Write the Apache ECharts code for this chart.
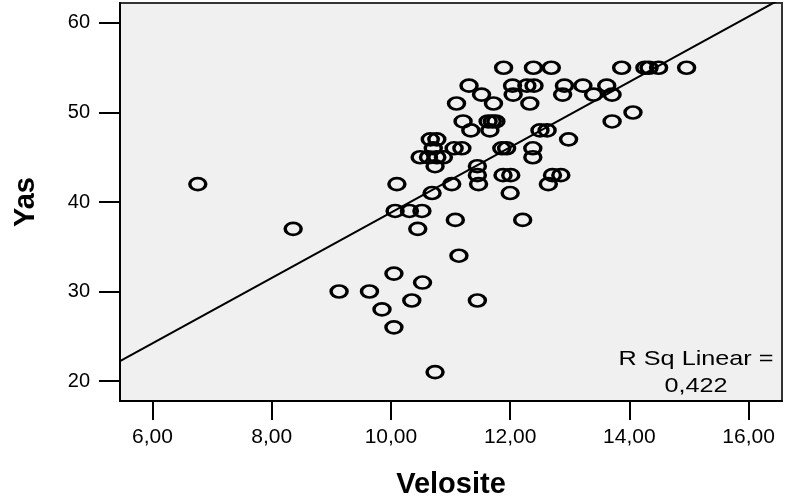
<!DOCTYPE html>
<html>
<head>
<meta charset="utf-8">
<script src="https://cdn.jsdelivr.net/npm/echarts@6/dist/echarts.min.js"></script>
<style>
  html, body { margin: 0; padding: 0; background: #fff; }
  #chart { width: 785px; height: 501px; }
</style>
</head>
<body>
<div id="chart"></div>
<script>
// scatter data (Velosite vs Yas)
var velosite = [
  11.89, 12.39, 12.69, 13.87, 14.26, 14.33, 14.49, 14.96,
  11.31, 12.04, 12.28, 12.40, 12.91, 13.22, 13.62,
  11.52, 12.05, 12.88, 13.40, 13.71,
  11.10, 11.72, 12.33,
  14.06,
  11.21, 11.63, 11.70, 11.76, 13.71,
  11.34, 11.66, 12.50, 12.62,
  10.66, 10.77, 12.98,
  10.71, 11.06, 11.19, 11.86, 11.94, 12.38,
  10.49, 10.63, 10.77, 10.88, 12.38,
  10.74, 11.45,
  11.45, 11.88, 12.01, 12.71, 12.85,
  6.76, 10.10, 11.02, 11.47, 12.64,
  10.69, 12.00,
  10.07, 10.31, 10.52,
  11.08, 12.21,
  8.36, 10.45,
  11.14, 10.05, 10.53, 9.13, 9.64, 10.35, 11.45, 9.85, 10.05, 10.74
];
var yas = [
  55, 55, 55, 55, 55, 55, 55, 55,
  53, 53, 53, 53, 53, 53, 53,
  52, 52, 52, 52, 52,
  51, 51, 51,
  50,
  49, 49, 49, 49, 49,
  48, 48, 48, 48,
  47, 47, 47,
  46, 46, 46, 46, 46, 46,
  45, 45, 45, 45, 45,
  44, 44,
  43, 43, 43, 43, 43,
  42, 42, 42, 42, 42,
  41, 41,
  39, 39, 39,
  38, 38,
  37, 37,
  34, 32, 31, 30, 30, 29, 29, 28, 26, 21
];

var xTicks = [6, 8, 10, 12, 14, 16];
var yTicks = [20, 30, 40, 50, 60];

// fit line as printed by the chart: Yas = a + b * Velosite
var fitIntercept = 2.32;
var fitSlope = 3.65;
var rSqText = "R Sq Linear =\n0,422";

var xMin = 5.455, xMax = 16.56;
var yMin = 17.77, yMax = 62.23;

var points = velosite.map(function (v, i) { return [v, yas[i]]; });
var fitLine = [xMin, xMax].map(function (v) { return [v, fitIntercept + fitSlope * v]; });

function fmt(v) {
  return v.toFixed(2).replace(".", ",");
}

var myChart = echarts.init(document.getElementById("chart"));
myChart.setOption({
  animation: false,
  textStyle: { fontFamily: "Liberation Sans, Arial, sans-serif" },
  grid: {
    left: 120,
    right: 3,
    top: 3,
    bottom: 100,
    outerBoundsMode: "none",
    show: true,
    backgroundColor: "#f0f0f0",
    borderColor: "#333",
    borderWidth: 2,
  },
  xAxis: {
    type: "value",
    min: xMin,
    max: xMax,
    name: "Velosite",
    nameLocation: "middle",
    nameGap: 69,
    nameTextStyle: { fontSize: 29, fontWeight: "bold", color: "#000" },
    axisLine: { show: true, lineStyle: { color: "#000", width: 2 } },
    axisTick: { show: true, length: 19, lineStyle: { color: "#000", width: 2 }, customValues: xTicks },
    axisLabel: { customValues: xTicks, formatter: fmt, fontSize: 21, color: "#000", margin: 26 },
    splitLine: { show: false },
  },
  yAxis: {
    type: "value",
    min: yMin,
    max: yMax,
    name: "Yas",
    nameLocation: "middle",
    nameGap: 80,
    nameTextStyle: { fontSize: 29, fontWeight: "bold", color: "#000" },
    axisLine: { show: true, lineStyle: { color: "#000", width: 2 } },
    axisTick: { show: true, length: 21, lineStyle: { color: "#000", width: 2 }, customValues: yTicks },
    axisLabel: { customValues: yTicks, fontSize: 20, color: "#000", margin: 30 },
    splitLine: { show: false },
  },
  graphic: [
    {
      type: "text",
      x: 696,
      y: 373,
      scaleX: 1.2,
      style: {
        text: rSqText,
        fontSize: 21,
        lineHeight: 27,
        fill: "#000",
        align: "center",
        verticalAlign: "middle",
        fontFamily: "Liberation Sans, Arial, sans-serif",
      },
    },
  ],
  series: [
    {
      type: "line",
      data: fitLine,
      symbol: "none",
      lineStyle: { color: "#000", width: 2 },
      z: 1,
    },
    {
      type: "scatter",
      data: points,
      symbol: "path://M0,10 A10,10 0 1,1 20,10 A10,10 0 1,1 0,10 Z",
      symbolSize: [16, 12],
      itemStyle: { color: "rgba(0,0,0,0)", borderColor: "#000", borderWidth: 3, opacity: 1 },
      z: 2,
    },
  ],
});
</script>
</body>
</html>
